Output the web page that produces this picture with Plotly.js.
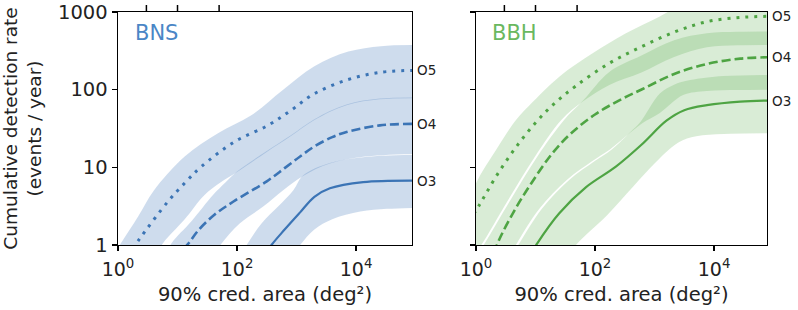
<!DOCTYPE html>
<html><head><meta charset="utf-8">
<script src="https://cdn.plot.ly/plotly-3.0.1.min.js"></script>
<style>html,body{margin:0;padding:0;background:#fff}#chart{width:798px;height:310px}</style>
</head><body><div id="chart"></div>
<script>
// ---------- tick labels ----------
const X_TICKS = [1, 100, 10000];
const X_TICKTEXT = ['10<sup>0</sup>', '10<sup>2</sup>', '10<sup>4</sup>'];
const Y_TICKS = [1, 10, 100, 1000];
const Y_TICKTEXT = ['1', '10', '100', '1000'];
const TOP_TICKS = [3, 10, 50];
const RUN_LABELS = ['O5', 'O4', 'O3'];

// ---------- BNS median curves ----------
const BNS_O5_x = [1.78, 2.31, 6.92, 14.1, 25.1, 91.2, 331, 794, 1905, 6918, 25120, 87100];
const BNS_O5_y = [0.89, 1.20, 3.63, 6.61, 10.2, 21.4, 34.7, 53.7, 87.1, 133, 167, 177];
const BNS_O4_x = [12.6, 15.5, 22.4, 41.7, 87.1, 316, 631, 1148, 1995, 3981, 6918, 25120, 87100];
const BNS_O4_y = [0.89, 1.06, 1.55, 2.45, 3.63, 6.61, 9.77, 13.8, 18.6, 24.5, 28.5, 34.7, 36.3];
const BNS_O3_x = [316, 380, 631, 1148, 1995, 3631, 13180, 87100];
const BNS_O3_y = [0.79, 1.0, 1.58, 2.63, 4.17, 5.37, 6.46, 6.76];

// ---------- BNS bands ----------
const BNS_O5_hi_x = [0.5, 1.12, 2.19, 3.98, 13.2, 47.9, 174, 589, 1995, 7413, 26300, 87100];
const BNS_O5_hi_y = [0.4, 1.05, 2.34, 5.01, 13.8, 27.5, 46.8, 99.1, 200, 309, 363, 376];
const BNS_O5_lo_x = [3.98, 5.70, 13.2, 28.2, 51.8, 100, 316, 794, 1995, 6918, 25120, 87100];
const BNS_O5_lo_y = [0.63, 1.05, 2.14, 4.37, 6.31, 8.71, 15.8, 25.1, 40.7, 63.1, 75.0, 77.6];
const BNS_O4_hi_x = [5.62, 7.94, 17.0, 39.8, 63.1, 100, 316, 794, 1995, 6918, 25120, 87100];
const BNS_O4_hi_y = [0.63, 1.05, 2.0, 4.42, 6.31, 8.81, 16.2, 25.7, 41.7, 64.6, 76.7, 79.4];
const BNS_O4_lo_x = [31.6, 52.5, 112, 275, 603, 1288, 3631, 13180, 87100];
const BNS_O4_lo_y = [0.56, 1.0, 1.91, 3.12, 5.12, 7.76, 11.2, 13.7, 14.9];
const BNS_O3_hi_x = [89.1, 145, 260, 490, 891, 1288, 3631, 13180, 87100];
const BNS_O3_hi_y = [0.56, 1.0, 1.91, 3.12, 5.12, 7.85, 11.35, 13.5, 14.5];
const BNS_O3_lo_x = [708, 1148, 1995, 3981, 11750, 33110, 87100];
const BNS_O3_lo_y = [0.63, 1.0, 1.58, 2.14, 2.69, 2.92, 3.0];

// ---------- BBH median curves ----------
const BBH_O5_x = [0.63, 1.14, 2.17, 4.70, 10.2, 20.0, 47.9, 174, 631, 2291, 7586, 27540, 87100];
const BBH_O5_y = [1.58, 3.28, 7.59, 18.2, 38.0, 64.6, 112, 219, 363, 562, 750, 851, 881];
const BBH_O4_x = [2.0, 2.45, 4.47, 8.51, 19.1, 39.8, 100, 251, 631, 2089, 7586, 27540, 87100];
const BBH_O4_y = [0.79, 1.17, 2.82, 6.24, 15.1, 27.5, 47.9, 72.4, 102, 158, 214, 251, 262];
const BBH_O3_x = [7.94, 10.7, 25.1, 70.8, 224, 603, 1585, 3162, 7586, 27540, 87100];
const BBH_O3_y = [0.71, 1.05, 2.57, 5.56, 10.2, 19.5, 39.8, 54.3, 63.1, 70.2, 72.4];

// ---------- BBH bands ----------
const BBH_O5_hi_x = [0.5, 1.0, 2.17, 4.70, 7.94, 25.1, 91.2, 331, 1202, 3162, 87100];
const BBH_O5_hi_y = [1.58, 6.24, 16.7, 40.7, 63.1, 147, 294, 532, 871, 1259, 1995];
const BBH_O5_lo_x = [0.79, 1.23, 3.47, 9.77, 27.2, 63.1, 174, 603, 2138, 7586, 25120, 87100];
const BBH_O5_lo_y = [0.63, 1.0, 3.80, 13.7, 40.7, 70.8, 115, 166, 263, 351, 372, 376];
const BBH_O4_hi_x = [0.89, 1.35, 3.80, 10.7, 30.2, 63.1, 174, 603, 2138, 7586, 25120, 87100];
const BBH_O4_hi_y = [0.63, 1.0, 3.80, 13.7, 40.7, 72.4, 169, 275, 434, 532, 556, 560];
const BBH_O4_lo_x = [2.82, 4.68, 11.7, 33.9, 89.1, 178, 398, 631, 1230, 3020, 7586, 25120, 87100];
const BBH_O4_lo_y = [0.5, 1.0, 2.95, 6.92, 12.0, 17.0, 28.2, 37.2, 50.1, 85.1, 96.2, 98.9, 100];
const BBH_O3_hi_x = [3.16, 5.13, 12.9, 37.2, 97.7, 191, 398, 575, 1230, 2089, 3981, 14450, 87100];
const BBH_O3_hi_y = [0.56, 1.0, 2.95, 6.92, 12.0, 17.0, 28.8, 38.0, 89.1, 115, 133, 150, 155];
const BBH_O3_lo_x = [28.2, 47.9, 158, 447, 1000, 2512, 5012, 14450, 87100];
const BBH_O3_lo_y = [0.56, 1.0, 2.40, 5.75, 11.2, 20.9, 25.1, 26.9, 27.5];

// ---------- styles ----------
const BLUE = '#3b74b5', BLUE_TXT = '#4a86c6', BLUE_FILL = 'rgba(60,115,185,0.25)';
const GREEN = '#4ea443', GREEN_TXT = '#6ab85f', GREEN_FILL = 'rgba(80,170,70,0.22)';
const DOT = '3px,6px', DASH = '9px,4px';

const traces = [];
function band(xlo, ylo, xhi, yhi, fill, xa, ya) {
  traces.push({type:'scatter', mode:'lines', x:xlo, y:ylo, xaxis:xa, yaxis:ya,
    line:{width:0, shape:'spline', smoothing:1}, hoverinfo:'skip', showlegend:false});
  traces.push({type:'scatter', mode:'lines', x:xhi, y:yhi, xaxis:xa, yaxis:ya,
    fill:'tonexty', fillcolor:fill,
    line:{width:0, shape:'spline', smoothing:1}, hoverinfo:'skip', showlegend:false});
}
function curve(x, y, color, dash, width, xa, ya) {
  traces.push({type:'scatter', mode:'lines', x:x, y:y, xaxis:xa, yaxis:ya,
    line:{color:color, dash:dash, width:width, shape:'spline', smoothing:1},
    hoverinfo:'skip', showlegend:false});
}

band(BNS_O5_lo_x, BNS_O5_lo_y, BNS_O5_hi_x, BNS_O5_hi_y, BLUE_FILL, 'x', 'y');
band(BNS_O4_lo_x, BNS_O4_lo_y, BNS_O4_hi_x, BNS_O4_hi_y, BLUE_FILL, 'x', 'y');
band(BNS_O3_lo_x, BNS_O3_lo_y, BNS_O3_hi_x, BNS_O3_hi_y, BLUE_FILL, 'x', 'y');
curve(BNS_O5_x, BNS_O5_y, BLUE, DOT, 3, 'x', 'y');
curve(BNS_O4_x, BNS_O4_y, BLUE, DASH, 2.6, 'x', 'y');
curve(BNS_O3_x, BNS_O3_y, BLUE, 'solid', 2.2, 'x', 'y');

band(BBH_O5_lo_x, BBH_O5_lo_y, BBH_O5_hi_x, BBH_O5_hi_y, GREEN_FILL, 'x2', 'y2');
band(BBH_O4_lo_x, BBH_O4_lo_y, BBH_O4_hi_x, BBH_O4_hi_y, GREEN_FILL, 'x2', 'y2');
band(BBH_O3_lo_x, BBH_O3_lo_y, BBH_O3_hi_x, BBH_O3_hi_y, GREEN_FILL, 'x2', 'y2');
curve(BBH_O5_x, BBH_O5_y, GREEN, DOT, 3, 'x2', 'y2');
curve(BBH_O4_x, BBH_O4_y, GREEN, DASH, 2.6, 'x2', 'y2');
curve(BBH_O3_x, BBH_O3_y, GREEN, 'solid', 2.2, 'x2', 'y2');

const FONT = 'DejaVu Sans';
function xax(domain, range, anchor, title) {
  return {type:'log', range:range, domain:domain, anchor:anchor, autorange:false,
    tickvals:X_TICKS, ticktext:X_TICKTEXT, ticks:'outside', ticklen:5, tickwidth:1.3, tickcolor:'#000',
    ticklabelstandoff:2,
    showline:true, mirror:true, linecolor:'#000', linewidth:1.4, showgrid:false, zeroline:false,
    tickfont:{size:19, color:'#222'},
    title:{text:title, font:{size:19.5, color:'#222'}, standoff:8}};
}
function yax(anchor, labels, title) {
  return {type:'log', range:[0, 3], domain:[0, 1], anchor:anchor, autorange:false,
    tickvals:Y_TICKS, ticktext:Y_TICKTEXT, ticks:'outside', ticklen:5, tickwidth:1.3, tickcolor:'#000',
    showticklabels:labels, showline:true, mirror:true, linecolor:'#000', linewidth:1.4,
    showgrid:false, zeroline:false, tickfont:{size:19.5, color:'#222'},
    title: title ? {text:title, font:{size:18.5, color:'#222'}, standoff:14} : undefined};
}

// short outward tick marks on the top edge of each panel (x through the axis scale)
const shapes = [];
['x', 'x2'].forEach(function (xa) {
  TOP_TICKS.forEach(function (v) {
    shapes.push({type:'line', xref:xa, yref:'paper', x0:v, x1:v, y0:1, y1:1.03,
      line:{color:'#000', width:1.5}});
  });
});

const RX1 = [0, 4.94], RX2 = [0, 4.89];
const annotations = [
  {xref:'x domain', yref:'y domain', x:0.05, y:0.91, xanchor:'left', yanchor:'middle',
   text:'BNS', showarrow:false, font:{size:21, color:BLUE_TXT}},
  {xref:'x2 domain', yref:'y2 domain', x:0.048, y:0.91, xanchor:'left', yanchor:'middle',
   text:'BBH', showarrow:false, font:{size:21, color:GREEN_TXT}}
];
const endsL = [BNS_O5_y, BNS_O4_y, BNS_O3_y];
const endsR = [BBH_O5_y, BBH_O4_y, BBH_O3_y];
RUN_LABELS.forEach(function (lab, i) {
  annotations.push({xref:'x domain', yref:'y', x:1, y:Math.log10(endsL[i][endsL[i].length - 1]),
    xanchor:'left', yanchor:'middle', xshift:3, text:lab, showarrow:false, font:{size:13.5, color:'#222'}});
  annotations.push({xref:'x2 domain', yref:'y2', x:1, y:Math.log10(endsR[i][endsR[i].length - 1]),
    xanchor:'left', yanchor:'middle', xshift:3, text:lab, showarrow:false, font:{size:13.5, color:'#222'}});
});

const layout = {
  width:798, height:310, margin:{l:118, r:31, t:12, b:65},
  paper_bgcolor:'#fff', plot_bgcolor:'#fff', showlegend:false,
  font:{family:FONT, color:'#222'},
  xaxis: xax([0, 0.453], RX1, 'y', '90% cred. area (deg²)'),
  xaxis2: xax([0.5516, 1], RX2, 'y2', '90% cred. area (deg²)'),
  yaxis: yax('x', true, 'Cumulative detection rate<br>(events / year)'),
  yaxis2: yax('x2', false, null),
  shapes: shapes,
  annotations: annotations
};
Plotly.newPlot('chart', traces, layout, {displayModeBar:false, staticPlot:true});
</script></body></html>
